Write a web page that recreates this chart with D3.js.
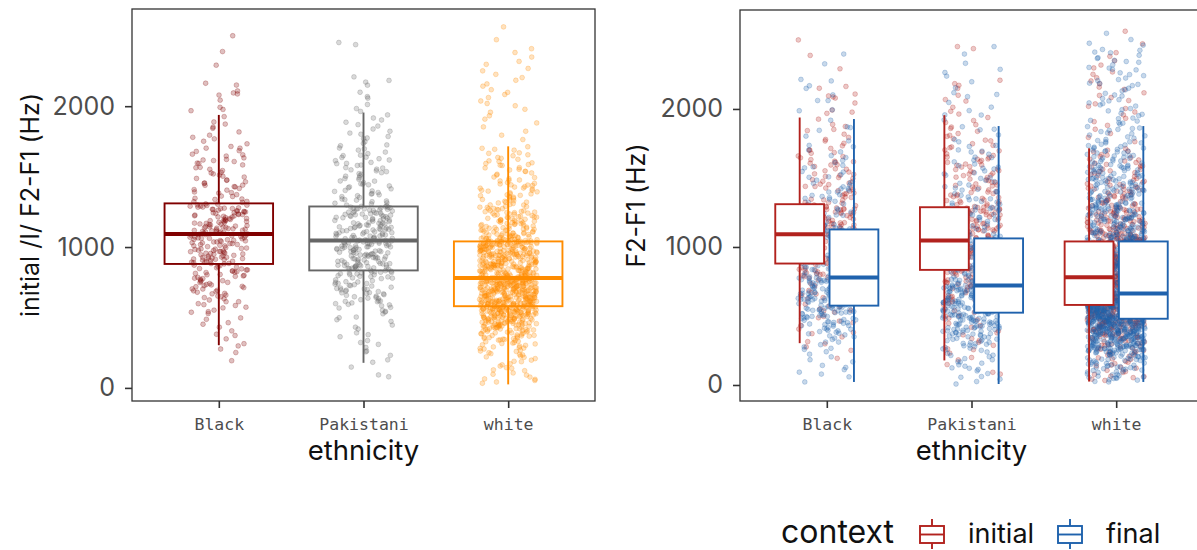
<!DOCTYPE html>
<html>
<head>
<meta charset="utf-8">
<script src="https://cdn.jsdelivr.net/npm/d3@7"></script>
<style>
  body { margin: 0; background: #fff; }
  svg { display: block; }
</style>
</head>
<body>
<svg id="chart" width="1197" height="550"></svg>
<script>
// ---- categories, ticks and legend entries ----
const categories = ["Black", "Pakistani", "white"];
const contexts = ["initial", "final"];
const yTicks = [0, 1000, 2000];

// ---- box-plot summaries (Hz), one entry per category ----
const initialLow    = [303, 178, 25];
const initialQ1     = [880, 834, 580];
const initialMedian = [1093, 1047, 780];
const initialQ3     = [1310, 1288, 1040];
const initialHigh   = [1938, 1955, 1715];

const finalLow    = [22, 7, 22];
const finalQ1     = [575, 524, 480];
const finalMedian = [778, 720, 662];
const finalQ3     = [1127, 1062, 1040];
const finalHigh   = [1927, 1876, 1876];

// ---- individual F2-F1 tokens (Hz), word-initial context ----
const blackInitial = [2500,2388,2291,2163,2108,2094,2079,2043,1992,1968,
1926,1873,1852,1817,1794,1768,1751,1733,1714,1702,1684,1659,1646,1633,1618,1607,
1594,1583,1566,1552,1543,1526,1519,1503,1487,1476,1463,1452,1438,1427,1416,1404,1391,1383,1372,1359,1346,1338,1324,1317,
1304,1187,1262,1118,1231,1295,1143,1209,1276,1101,1168,1249,1127,1283,1196,1222,1152,1108,1267,1175,1239,1134,1290,1213,1160,1099,1256,1181,1145,1227,1272,1115,1201,1244,1139,1186,1299,1123,1218,1164,1106,1253,1192,1131,1278,1156,1235,1112,
1088,962,1031,903,1075,987,918,1052,941,1009,884,1066,972,1040,927,996,1081,951,893,1018,1059,935,978,1093,911,1025,958,1047,880,1003,945,1071,921,990,1036,898,967,1085,929,1012,954,1062,888,983,1044,915,1029,969,
862,741,813,668,795,853,702,771,837,624,756,805,689,867,731,598,822,763,647,845,712,785,573,831,679,748,552,858,718,612,799,528,693,776,487,641,829,463,726,585,431,659,405,537,372,348,314,298,251,193,
2150,1977,1843,1622,1511,1439,1386,1563,1702,1341,1474,1655,1408,1596,1322,1779,1455,1530,1362,1888,1614,1497,1679,2087,1429,
1297,1149,1231,1103,1268,1176,1214,1129,1284,1197,1243,1110,1257,1162,1221,1136,1306,1184,1249,1119,1273,1170,1203,1142,1291,
1080,926,1017,892,1054,968,907,1037,949,1070,883,993,938,1061,913,1024,976,1089,899,1008,956,1046,921,985,1065,
871,734,819,652,792,847,703,761,612,838,685,779,568,826,721,633,803,541,749,497,671,452,591,381,276];

const pakistaniInitial = [2452,2437,2208,2183,2171,2149,2068,2057,2012,1983,1938,1902,1886,1859,1838,1822,1801,1785,1769,1748,1736,1719,1703,1688,1674,1663,1649,1638,1627,1613,1601,1592,1579,1564,1553,1541,1528,1517,1506,1492,1481,1469,1457,1446,1434,1421,1413,1398,1387,1376,1364,1352,1341,1333,1322,1314,1306,1298,1293,1535,
1286,1093,1218,1157,1064,1271,1132,1240,1187,1078,1259,1146,1205,1069,1282,1121,1232,1174,1086,1248,1163,1059,1211,1139,1277,1104,1196,1226,1082,1168,1263,1115,1201,1153,1236,1074,1289,1127,1180,1097,1244,1141,1215,1061,1268,1110,1191,1253,1135,1088,1222,1170,1067,1275,1149,1208,1101,1229,1124,1184,
1051,897,978,862,1022,941,845,1006,919,1043,871,963,995,852,1031,908,956,1015,884,937,1048,866,989,926,1001,848,971,1037,893,948,1019,877,915,1027,842,983,952,1040,889,930,1010,858,967,902,1046,875,944,998,921,1034,855,974,912,1024,880,960,1003,934,869,986,
832,715,788,642,809,694,761,603,824,737,668,797,583,749,815,626,703,776,551,684,828,657,742,614,792,526,723,671,804,498,754,637,819,472,709,593,781,446,676,418,612,391,538,363,336,309,287,262,231,199,148,92,79,651,726,567,698,503,835,617,
2099,1916,1774,1652,1548,1468,1402,1336,1697,1582,1449,1371,1809,1618,1503,1427,1358,1311,1725,1561,1486,1395,1963,1636,1521,1442,1327,1869,1594,1380,
1279,1102,1227,1154,1071,1262,1137,1199,1087,1245,1172,1116,1270,1063,1210,1143,1284,1095,1234,1165,1124,1256,1079,1189,1219,1108,1273,1158,1241,1131,
1043,882,968,850,1017,931,863,1001,904,1036,873,952,989,845,1026,914,959,1009,891,940,1049,858,977,923,996,868,947,1031,899,984,
821,706,779,634,803,687,752,598,816,729,662,790,572,741,811,618,696,767,543,675,825,647,733,589,484,431,378,322,256,182];

const whiteInitial = [2563,2472,2408,2381,2349,2318,2297,2268,2251,2226,2203,2184,2158,2142,2117,2098,2083,2061,2037,2019,2003,1978,1957,1932,1908,1881,1853,1822,1794,1763,
1712,1208,1397,1083,1564,1149,1281,1066,1469,1176,1623,1112,1338,1239,1057,1511,1192,1094,1426,1267,1131,1688,1354,1074,1219,1593,1163,1302,1052,1448,1123,1377,1248,1089,1538,1184,1655,1102,1319,1061,1229,1485,1141,1413,1273,1078,1197,1579,1117,1364,1051,1257,1161,1636,1098,1437,1211,1289,1071,1526,1137,1346,1186,1701,1106,1392,1244,1059,1458,1152,1313,1085,1223,1607,1128,1371,1201,1063,1497,1168,1274,1110,1418,1235,1092,1552,1145,1329,1068,1264,1179,1669,1119,1403,1253,1080,1476,1157,1298,1055,1214,1586,1133,1359,1195,1096,1441,1287,1126,1171,
1041,873,958,812,1009,926,795,987,851,1033,904,968,829,1018,887,943,802,1046,915,864,996,837,951,1025,879,808,973,931,1004,846,898,1038,819,962,884,1013,791,936,857,989,921,1029,868,948,813,1000,893,967,834,1043,909,855,979,798,940,1021,876,925,842,993,862,1035,902,954,824,1008,889,971,806,946,1026,870,917,848,984,1044,896,832,960,1015,881,933,799,1002,859,976,912,1031,840,955,893,818,990,1040,872,929,852,1011,906,964,793,944,1022,866,983,826,918,1037,885,949,810,998,861,1017,900,970,836,941,1027,878,803,957,1006,891,844,975,923,1042,869,938,816,994,853,1019,910,966,
784,652,723,601,766,689,617,744,668,593,731,706,776,639,698,758,612,681,741,624,787,663,715,596,752,644,702,769,628,689,737,607,780,655,722,672,599,748,635,710,763,619,694,727,589,773,648,684,740,614,757,667,701,631,788,678,719,603,746,658,692,771,621,734,676,593,761,641,708,750,610,783,665,697,626,738,686,754,598,716,660,778,633,705,744,615,691,767,649,728,604,755,674,712,637,786,661,733,595,699,749,622,680,775,645,724,609,762,670,695,630,742,656,718,590,759,683,704,618,781,651,730,674,600,747,666,709,636,770,687,725,611,756,642,696,765,627,713,592,739,
582,471,536,398,561,503,437,574,519,462,548,413,585,490,527,446,566,381,512,554,429,497,578,456,540,366,509,569,421,485,531,352,557,476,442,586,498,337,545,463,520,404,571,487,322,533,451,559,391,514,468,579,306,539,425,493,564,376,525,448,581,291,506,434,552,479,360,543,411,572,276,517,459,387,562,495,259,530,418,549,344,473,584,243,510,439,567,331,483,226,541,402,556,315,466,208,522,372,576,297,453,189,535,357,501,171,546,283,432,155,515,341,576,139,489,268,408,122,560,318,106,457,250,91,384,234,77,528,302,64,444,217,53,369,197,42,286,164,33,128,
1665,1092,1318,1204,1547,1076,1429,1251,1138,1612,1183,1367,1058,1493,1226,1107,1581,1299,1166,1403,1062,1452,1241,1125,1694,1337,1190,1517,1081,1385,1212,1148,1630,1271,1099,1474,1173,1350,1053,1562,1233,1120,1419,1283,1070,1536,1159,1309,1215,1598,1102,1440,1258,1134,1377,1188,1648,1067,1325,1245,
1034,861,947,803,1012,897,828,976,919,1045,845,958,794,1003,873,936,817,1026,888,962,809,991,852,1039,904,941,826,1016,867,979,797,950,1030,883,913,839,998,858,1021,927,806,969,875,1041,896,831,985,944,1008,850,916,792,973,1036,880,934,821,1001,863,954,1024,899,813,988,842,931,1047,870,965,800,1013,908,847,977,1032,886,924,834,995,856,1019,942,811,961,893,1038,868,982,823,939,1005,878,952,796,1027,
779,641,712,596,754,667,729,608,771,686,624,745,653,700,590,764,633,717,678,786,612,739,660,694,599,757,646,723,671,604,782,637,706,749,618,689,768,656,734,593,711,679,760,628,697,743,615,775,662,720,601,752,644,688,730,621,785,669,703,594,748,639,715,763,610,682,737,654,776,625,698,742,606,759,664,726,597,691,751,632,707,772,648,719,614,766,675,736,603,701,755,640,684,789,627,
580,493,545,431,567,512,458,574,527,470,552,416,584,501,538,449,563,396,521,559,443,508,577,465,547,373,515,570,427,489,534,355,556,479,436,586,496,339,541,462,518,407,575,484,328,530,455,561,385,506,472,582,312,537,421,499,553,367,524,446,578,280,503,438,548,476,346,565,413,571,262,510,452,391,557,488,238,529,402,543,186,467,573,144,486,97,419,61,350,220];

// ---- individual F2-F1 tokens (Hz), word-final context ----
const blackFinal = [2398,1436,1187,2327,1662,1253,1141,1918,1379,1206,2203,1547,1298,1163,1803,1412,1229,2168,1591,1331,1172,1736,1461,1268,2149,1138,1524,1357,1196,1865,1484,1244,2102,1627,1312,1150,1702,1398,1219,2061,1573,1283,1131,1769,1449,1261,1994,1505,1345,1180,1648,1423,1237,1158,1870,1366,1211,
1121,853,992,801,1074,916,836,1043,957,789,1102,881,1013,824,969,1089,903,812,1056,938,867,1117,981,795,1029,892,1066,846,949,1004,817,1096,926,860,1037,784,975,1111,898,1020,832,962,1081,873,807,1049,931,986,1125,842,910,1060,890,998,828,945,1078,
773,628,702,589,748,661,721,604,765,683,639,742,596,711,669,758,617,694,776,645,729,580,687,753,622,706,654,768,599,737,676,612,761,649,716,585,698,744,632,771,664,724,608,689,756,641,733,591,673,750,626,709,578,679,763,658,719,
568,447,521,382,553,489,416,541,462,573,503,349,532,437,560,474,311,515,426,547,395,496,276,528,453,564,363,508,241,481,537,404,204,469,556,330,442,168,518,375,127,495,292,93,431,258,59,387,22,549,458,412,527,356,486,223,111,
1987,1543,1281,1158,1726,1398,1214,2061,1467,1322,1139,1611,1256,1845,1421,1190,1352,1689,1232,1508,2214,1167,1374,1276,1580,
1109,864,1015,798,953,1071,889,822,1038,931,1094,811,971,857,1120,906,790,1052,940,875,996,835,1083,918,1027,
769,612,718,584,744,655,697,603,758,671,627,733,590,706,646,775,619,688,740,595,727,662,751,634,680,
562,438,517,371,549,482,405,535,458,570,311,497,266,524,429,183,472,542,340,142,506,392,557,79,451];

const pakistaniFinal = [2452,2398,2331,2264,2238,2197,2153,2118,2089,2047,2013,1988,1957,1921,
1871,1398,1126,1672,1251,1083,1537,1189,1812,1342,1098,1601,1277,1145,1449,1069,1736,1223,1386,1112,1565,1302,1167,1483,1077,1651,1240,1094,1418,1203,1849,1325,1136,1519,1265,1086,1703,1362,1178,1461,1118,1589,1290,1073,1427,1215,1778,1318,1152,1502,1106,1629,1256,1197,1374,1065,1551,1234,1131,1437,1287,1091,1688,1349,1162,1212,
1058,803,947,742,1021,876,769,993,912,731,1040,838,963,784,1009,892,754,976,861,1049,725,928,819,1002,887,763,1033,851,939,797,1015,870,746,985,903,1055,812,955,735,1027,868,920,790,998,847,1044,758,934,881,1012,826,970,738,1036,899,779,958,856,1051,722,944,831,1005,875,751,982,915,1061,809,950,772,1024,864,926,794,990,842,1047,766,908,
716,588,661,535,702,627,554,689,612,574,711,643,529,676,597,718,561,654,694,581,631,707,548,669,604,685,538,649,713,592,620,697,566,657,527,681,610,706,571,638,692,552,665,601,719,584,646,541,699,617,673,557,709,594,636,532,687,624,662,577,714,606,650,545,695,589,671,563,703,615,640,530,683,599,658,569,700,621,551,678,
519,402,467,338,502,431,371,489,415,515,448,307,476,389,508,426,284,461,355,495,409,262,483,378,512,441,239,454,326,499,396,214,470,349,522,418,191,437,295,486,364,168,456,272,505,383,146,423,251,478,332,124,446,229,493,358,102,412,205,464,317,83,392,183,517,427,61,369,158,449,299,42,345,136,404,267,25,321,113,7,
2105,1956,1412,1167,1728,1283,1096,1571,1214,1853,1349,1132,1648,1255,1473,1080,1762,1309,1185,1530,1104,1617,1232,1401,1148,1695,1268,1077,1497,1330,2287,1579,1199,
1046,812,961,748,1019,884,773,995,909,736,1037,845,972,789,1008,866,760,983,901,1054,727,935,827,1001,872,756,1030,857,946,801,1012,889,740,
712,590,657,541,698,625,563,684,608,579,705,641,532,670,599,717,556,651,689,583,634,701,547,666,612,679,537,645,709,594,621,691,
513,396,462,331,498,425,364,484,411,509,442,301,471,381,503,419,278,455,348,492,403,254,478,372,216,436,309,167,389,121,288,56];

const whiteFinal = [2548,2503,2462,2431,2407,2389,2366,2344,2320,2301,2283,2262,2241,2224,2205,2187,2169,2150,2131,2113,2094,2076,2058,2039,2021,2003,1986,1968,1951,1934,1917,1901,1889,2412,2287,
1872,1312,1087,1624,1198,1453,1061,1771,1269,1126,1538,1377,1049,1702,1233,1489,1142,1836,1341,1076,1591,1215,1420,1105,1663,1298,1054,1517,1184,1402,1739,1260,1118,1566,1357,1069,1805,1244,1468,1159,1641,1321,1092,1502,1207,1388,1045,1689,1283,1133,1553,1364,1080,1852,1226,1437,1168,1608,1305,1058,1478,1192,1716,1334,1111,1529,1251,1412,1073,1754,1276,1148,1578,1349,1042,1659,1221,1461,1100,1821,1292,1177,1546,1395,1065,1681,1238,1429,1137,1597,1316,1084,1494,1210,1788,1262,1122,1633,1371,1052,1511,1189,1446,1096,1727,1287,1155,1571,1338,1071,1858,1230,1484,1114,1616,1309,1047,1523,1202,1408,1144,1697,1273,1082,1559,1383,1129,1762,1248,1472,1163,1650,1327,1059,1496,1218,1416,1103,1584,1294,
1036,788,912,703,981,847,731,1008,869,675,954,806,1027,742,896,963,689,825,1015,771,934,856,710,993,818,669,945,879,1031,756,903,837,974,718,1002,862,683,921,795,1039,748,887,957,723,832,1011,781,940,672,870,998,813,734,926,1023,764,851,968,697,908,803,1033,741,875,947,686,822,987,769,915,842,1006,713,892,961,665,799,1019,752,929,866,976,727,838,1037,785,901,694,952,819,1012,760,884,937,678,848,991,738,918,808,1026,774,859,970,701,898,828,1004,746,943,681,873,984,792,920,715,1030,835,956,767,889,663,996,811,931,730,864,1017,778,909,691,978,844,1034,755,880,949,707,826,1000,784,923,671,853,966,736,895,817,1021,762,939,688,871,989,801,913,720,1009,840,958,749,886,676,972,815,1025,776,905,699,857,983,
658,531,597,487,642,563,509,624,578,494,651,545,610,522,589,637,501,569,616,483,554,646,528,603,575,492,631,540,660,516,584,621,498,558,639,511,593,567,485,627,549,606,524,654,580,503,614,536,647,562,489,599,526,633,571,507,618,543,656,517,586,629,495,552,608,533,644,574,481,601,520,635,565,506,652,547,591,513,622,560,490,612,538,649,577,499,626,529,595,556,661,484,604,542,640,572,510,619,535,587,653,519,566,632,497,582,548,611,486,645,561,527,598,657,504,573,625,541,590,515,638,553,496,607,569,650,523,583,628,493,559,615,534,648,576,508,602,546,659,488,588,620,530,564,641,512,594,551,634,482,579,609,537,655,570,500,623,544,585,514,636,557,491,605,568,643,525,592,630,505,550,617,539,
476,352,421,288,458,389,317,447,374,263,437,403,336,469,296,411,357,479,249,384,442,322,465,275,398,344,453,231,417,363,471,307,392,282,449,339,214,428,371,461,256,405,327,474,298,380,440,241,415,348,467,311,396,270,433,365,478,197,386,331,456,286,409,352,444,224,371,463,303,424,258,393,340,472,181,401,319,451,279,378,430,236,413,361,466,292,387,165,426,334,459,268,399,313,448,207,376,418,248,459,355,150,434,301,391,470,276,407,342,136,445,260,383,322,121,429,290,367,108,412,238,453,94,349,201,395,80,310,177,439,67,273,155,362,52,220,419,38,294,130,22,254,346,187,115,431,268,58,377,159,442,245,99,325,188,462,283,143,401,212,74,358,233,455,305,126,389,264,47,338,195,
2476,2425,2371,2338,2296,2249,2213,2178,2139,2101,2067,2029,1995,1961,1929,1897,2352,2183,2044,1912,
1845,1239,1063,1576,1357,1118,1693,1281,1451,1090,1744,1196,1532,1328,1054,1619,1225,1409,1152,1798,1303,1078,1487,1266,1671,1139,1382,1044,1557,1213,1433,1107,1723,1345,1171,1509,1256,1066,1636,1399,1125,1779,1288,1480,1186,1592,1317,1048,1455,1235,1707,1362,1097,1541,1204,1419,1143,1826,1275,1070,1603,1338,1167,1498,1246,1654,1120,1390,1057,1569,1297,1181,1463,1219,1734,1353,1088,1526,1267,1425,1131,1681,1321,1051,1582,1207,1443,1158,1763,1282,1094,1513,1373,1229,1623,1112,1404,1185,1862,1306,1075,1547,1253,1470,1146,1662,1344,1060,1494,1221,1716,1397,1116,1588,1279,1436,1174,1811,1329,1083,1535,1243,1458,1136,1645,1368,1199,1503,1049,1694,1310,1161,1560,1262,1413,1101,1754,1290,
1029,815,944,731,1003,868,757,979,892,681,1018,836,956,769,913,1036,703,851,987,794,929,665,1011,877,744,962,826,1025,718,901,846,973,685,937,807,1007,761,888,1038,729,859,951,692,921,787,995,843,674,966,871,1022,740,905,812,982,697,934,855,1013,772,894,668,947,830,1032,753,916,798,989,711,863,959,678,927,839,1016,766,883,971,725,899,822,1001,689,942,847,1027,779,910,664,968,834,993,748,878,952,706,1034,804,924,
655,538,602,491,639,571,515,620,584,497,647,552,613,527,594,634,506,566,618,484,549,643,532,607,578,495,628,544,659,519,588,624,502,561,637,513,596,569,487,630,553,609,521,650,583,508,616,540,645,564,493,600,530,632,575,511,621,547,654,518,590,627,499,557,611,535,641,577,482,604,524,636,567,504,648,550,592,516,625,562,489,614,543,652,580,496,629,533,597,558,657,486,606,545,638,573,512,619,537,589,651,522,568,633,500,585,551,610,488,642,563,526,599,660,507,574,626,541,593,517,640,555,494,608,570,646,528,586,631,510,
472,348,417,283,455,386,322,444,371,259,433,400,331,466,293,409,353,477,246,381,439,318,462,271,395,341,450,228,414,360,468,304,389,279,446,336,211,425,368,458,253,402,324,471,295,377,437,238,412,345,464,308,393,266,430,362,475,193,383,328,453,284,406,350,441,221,368,460,300,421,255,390,337,469,178,398,316,448,276,375,427,233,410,358,463,289,384,162,423,331,456,265,396,310,445,204,373,415,245,457,352,147,431,298,388,467,273,404,339,133,442,257,380,319,118,426,287,364,105,409,235,450,91,346,198,392,77,307,174,436,64,270,152,359,49,217,416,35,291,127,26,251,343,184,112,428,265,55,374,156,439,242,96,322,185,459,280,140,398,209];

// ---- colours ----
const ethnicityColours = ["#800000", "#666666", "#ff8c00"];
const contextColours = ["#b2221e", "#1f62ad"];

// ---- assemble per-category lookups from the arrays above ----
const initialPoints = [blackInitial, pakistaniInitial, whiteInitial];
const finalPoints = [blackFinal, pakistaniFinal, whiteFinal];
const statsFor = (low, q1, med, q3, high) =>
  categories.map((c, i) => ({ low: low[i], q1: q1[i], med: med[i], q3: q3[i], high: high[i] }));
const initialStats = statsFor(initialLow, initialQ1, initialMedian, initialQ3, initialHigh);
const finalStats = statsFor(finalLow, finalQ1, finalMedian, finalQ3, finalHigh);

// ---- drawing ----
const svg = d3.select("#chart");
svg.append("rect").attr("width", 1197).attr("height", 550).attr("fill", "#fff");

const FONT = "Inter, 'Open Sans', sans-serif";
const MONO = "'DejaVu Sans Mono', 'Liberation Mono', monospace";

// deterministic horizontal jitter in [-0.5, 0.5)
function jitter(i, seed) {
  const s = Math.sin((i + 1) * 12.9898 + seed * 78.233) * 43758.5453;
  return s - Math.floor(s) - 0.5;
}

function makePanel(p) {
  const x = d3.scalePoint().domain(categories).range([p.left, p.right]).padding(0.6);
  const y = d3.scaleLinear().domain([p.yMin, p.yMax]).range([p.bottom, p.top]);
  return { x, y, step: x.step() };
}

function drawPoints(g, values, cx, step, y, colour, seed) {
  g.append("g").selectAll("circle").data(values).join("circle")
    .attr("cx", (d, i) => cx + jitter(i, seed) * 0.4 * step)
    .attr("cy", d => y(d))
    .attr("r", 2.4)
    .attr("fill", colour).attr("fill-opacity", 0.25)
    .attr("stroke", colour).attr("stroke-opacity", 0.35).attr("stroke-width", 0.7);
}

function drawBox(g, s, cx, w, y, colour, fill) {
  const b = g.append("g").attr("stroke", colour).attr("stroke-width", 1.9);
  b.append("line").attr("x1", cx).attr("x2", cx).attr("y1", y(s.high)).attr("y2", y(s.q3));
  b.append("line").attr("x1", cx).attr("x2", cx).attr("y1", y(s.q1)).attr("y2", y(s.low));
  b.append("rect").attr("x", cx - w / 2).attr("y", y(s.q3))
    .attr("width", w).attr("height", y(s.q1) - y(s.q3)).attr("fill", fill);
  b.append("line").attr("x1", cx - w / 2).attr("x2", cx + w / 2)
    .attr("y1", y(s.med)).attr("y2", y(s.med)).attr("stroke-width", 4);
}

function drawFrame(p, sc, yTitle, yTitleX) {
  const g = svg.append("g");
  g.append("rect").attr("x", p.left).attr("y", p.top)
    .attr("width", p.right - p.left).attr("height", p.bottom - p.top)
    .attr("fill", "none").attr("stroke", "#333").attr("stroke-width", 1.3);

  const ya = g.append("g").attr("transform", `translate(${p.left},0)`)
    .call(d3.axisLeft(sc.y).tickValues(yTicks).tickSize(7).tickPadding(10).tickFormat(d3.format("d")));
  ya.select(".domain").remove();
  ya.selectAll(".tick line").attr("stroke", "#333").attr("stroke-width", 1.6);
  ya.selectAll(".tick text").attr("font-family", FONT).attr("font-size", 25).attr("fill", "#4d4d4d");

  const xa = g.append("g").attr("transform", `translate(0,${p.bottom})`)
    .call(d3.axisBottom(sc.x).tickSize(7).tickPadding(10));
  xa.select(".domain").remove();
  xa.selectAll(".tick line").attr("stroke", "#333").attr("stroke-width", 1.6);
  xa.selectAll(".tick text").attr("font-family", MONO).attr("font-size", 16.5).attr("fill", "#4d4d4d");

  g.append("text").attr("x", (p.left + p.right) / 2).attr("y", 460)
    .attr("text-anchor", "middle").attr("font-family", FONT).attr("font-size", 27.5)
    .attr("fill", "#111").text("ethnicity");

  g.append("text")
    .attr("transform", `translate(${yTitleX},${(p.top + p.bottom) / 2}) rotate(-90)`)
    .attr("text-anchor", "middle").attr("font-family", FONT).attr("font-size", 25)
    .attr("fill", "#111").text(yTitle);
}

// Left panel: initial tokens by ethnicity
const leftP = { left: 132, right: 595, top: 9, bottom: 401, yMin: -93, yMax: 2690 };
const L = makePanel(leftP);
const leftG = svg.append("g");
categories.forEach((c, i) => {
  drawPoints(leftG, initialPoints[i], L.x(c), L.step, L.y, ethnicityColours[i], i + 1);
});
categories.forEach((c, i) => {
  drawBox(leftG, initialStats[i], L.x(c), 0.75 * L.step, L.y, ethnicityColours[i], "none");
});
drawFrame(leftP, L, "initial /I/ F2-F1 (Hz)", 39);

// Right panel: initial vs final tokens by ethnicity
const rightP = { left: 740, right: 1203, top: 10, bottom: 401, yMin: -116, yMax: 2717 };
const R = makePanel(rightP);
const rightG = svg.append("g");
categories.forEach((c, i) => {
  drawPoints(rightG, initialPoints[i], R.x(c), R.step, R.y, contextColours[0], i + 11);
});
categories.forEach((c, i) => {
  drawPoints(rightG, finalPoints[i], R.x(c), R.step, R.y, contextColours[1], i + 21);
});
const dodge = 0.1875 * R.step;
const dodgedWidth = 0.3375 * R.step;
categories.forEach((c, i) => {
  drawBox(rightG, initialStats[i], R.x(c) - dodge, dodgedWidth, R.y, contextColours[0], "#fff");
  drawBox(rightG, finalStats[i], R.x(c) + dodge, dodgedWidth, R.y, contextColours[1], "#fff");
});
drawFrame(rightP, R, "F2-F1 (Hz)", 645);

// Legend
const legend = svg.append("g");
legend.append("text").attr("x", 781).attr("y", 543)
  .attr("font-family", FONT).attr("font-size", 32).attr("fill", "#111").text("context");
const keyX = [932, 1070];
const labelX = [968, 1106];
contexts.forEach((c, i) => {
  const k = legend.append("g").attr("stroke", contextColours[i]).attr("stroke-width", 1.9).attr("fill", "#fff");
  k.append("line").attr("x1", keyX[i]).attr("x2", keyX[i]).attr("y1", 519).attr("y2", 549);
  k.append("rect").attr("x", keyX[i] - 12).attr("y", 526).attr("width", 24).attr("height", 17);
  k.append("line").attr("x1", keyX[i] - 12).attr("x2", keyX[i] + 12).attr("y1", 534.5).attr("y2", 534.5);
  legend.append("text").attr("x", labelX[i]).attr("y", 543)
    .attr("font-family", FONT).attr("font-size", 27).attr("fill", "#111").text(c);
});
</script>
</body>
</html>
